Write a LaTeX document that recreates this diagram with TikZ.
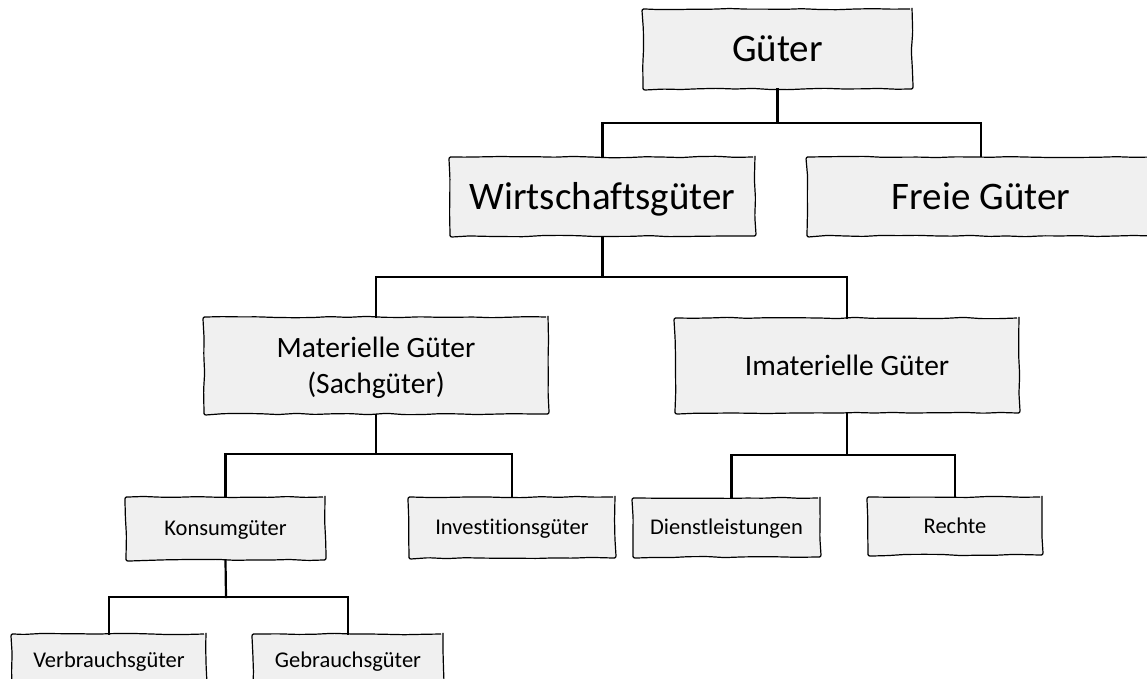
\documentclass[tikz,border=0pt]{standalone}
\usepackage{fontspec}
\setmainfont[Ligatures=NoCommon]{Carlito}
\usetikzlibrary{decorations.pathmorphing}
\definecolor{boxfill}{HTML}{F0F0F0}
\tikzset{
  sketchbox/.style={draw=black, fill=boxfill, line width=1.2pt, inner sep=0pt,
    decorate, decoration={random steps, segment length=18pt, amplitude=0.7pt},
    rounded corners=2pt, align=center, text depth=0pt},
  conn/.style={line width=2.2pt, line cap=rect, line join=miter},
  bigtxt/.style={font=\fontsize{39}{44}\selectfont, text height=25pt},
  midtxt/.style={font=\fontsize{29.5}{36}\selectfont, text height=19pt},
  smalltxt/.style={font=\fontsize{22.5}{27}\selectfont, text height=14.5pt},
}
\begin{document}
\begin{tikzpicture}[x=1pt,y=-1pt]
\pgfmathsetseed{7}
\useasboundingbox (0,0) rectangle (1147,679);
\begin{scope}
\clip (0,0) rectangle (1147,679);
% nodes
\node[sketchbox,bigtxt,minimum width=269pt,minimum height=80pt] (guter) at (777.5,49) {Güter};
\node[sketchbox,bigtxt,minimum width=305pt,minimum height=79pt] (wirt) at (602.5,196.5) {Wirtschaftsgüter};
\node[sketchbox,bigtxt,minimum width=348pt,minimum height=79pt] (freie) at (981,196.5) {Freie Güter};
\node[sketchbox,midtxt,minimum width=344pt,minimum height=97pt,text height=55pt] (mat) at (376,365.5) {Materielle Güter\\(Sachgüter)};
\node[sketchbox,midtxt,minimum width=344pt,minimum height=95pt] (imat) at (847,365.5) {Imaterielle Güter};
\node[sketchbox,smalltxt,minimum width=199pt,minimum height=63pt] (konsum) at (225.5,528.5) {Konsumgüter};
\node[sketchbox,smalltxt,minimum width=206pt,minimum height=61pt] (invest) at (512,527.5) {Investitionsgüter};
\node[sketchbox,smalltxt,minimum width=187pt,minimum height=59pt] (dienst) at (726.5,527.5) {Dienstleistungen};
\node[sketchbox,smalltxt,minimum width=174pt,minimum height=58pt] (rechte) at (955,526) {Rechte};
\node[sketchbox,smalltxt,minimum width=194pt,minimum height=52pt] (verb) at (109,660) {Verbrauchsgüter};
\node[sketchbox,smalltxt,minimum width=190pt,minimum height=52pt] (gebr) at (348,660) {Gebrauchsgüter};
% junctions
\coordinate (j1) at (777.5,123);
\coordinate (j2) at (602.5,277);
\coordinate (j3) at (376,454);
\coordinate (j4) at (847,455);
\coordinate (j5) at (226,597);
% connectors
\draw[conn] (guter.south) -- (j1);
\draw[conn] (wirt.north) |- (j1);
\draw[conn] (freie.north) |- (j1);
\draw[conn] (wirt.south) -- (j2);
\draw[conn] (mat.north) |- (j2);
\draw[conn] (imat.north) |- (j2);
\draw[conn] (mat.south) -- (j3);
\draw[conn] (konsum.north) |- (j3);
\draw[conn] (invest.north) |- (j3);
\draw[conn] (imat.south) -- (j4);
\draw[conn] ([xshift=5pt]dienst.north) |- (j4);
\draw[conn] (rechte.north) |- (j4);
\draw[conn] (konsum.south) -- (j5);
\draw[conn] (verb.north) |- (j5);
\draw[conn] (gebr.north) |- (j5);
\end{scope}
\end{tikzpicture}
\end{document}
